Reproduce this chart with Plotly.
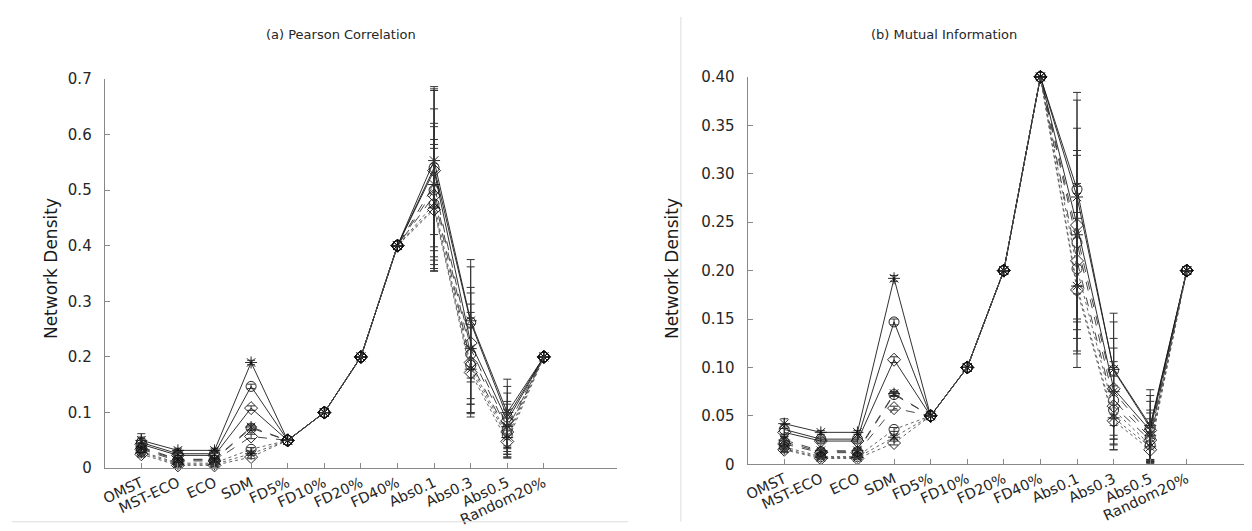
import plotly.graph_objects as go

categories = ["OMST", "MST-ECO", "ECO", "SDM", "FD5%", "FD10%", "FD20%", "FD40%",
              "Abs0.1", "Abs0.3", "Abs0.5", "Random20%"]

series_names = ["S1", "S2", "S3", "S4", "S5", "S6", "S7", "S8", "S9"]
series_markers = ["asterisk-open", "circle-open", "diamond-open",
                  "asterisk-open", "circle-open", "diamond-open",
                  "circle-open", "asterisk-open", "diamond-open"]
series_dash = ["solid", "solid", "solid", "dash", "dash", "dash", "dot", "dot", "dot"]

# (a) Pearson correlation: mean network density per series
pearson_mean = [
    [0.050, 0.032, 0.032, 0.190, 0.05, 0.10, 0.20, 0.40, 0.553, 0.265, 0.100, 0.20],
    [0.046, 0.026, 0.026, 0.147, 0.05, 0.10, 0.20, 0.40, 0.540, 0.262, 0.092, 0.20],
    [0.043, 0.023, 0.023, 0.108, 0.05, 0.10, 0.20, 0.40, 0.535, 0.225, 0.085, 0.20],
    [0.038, 0.016, 0.016, 0.074, 0.05, 0.10, 0.20, 0.40, 0.510, 0.215, 0.075, 0.20],
    [0.036, 0.015, 0.015, 0.072, 0.05, 0.10, 0.20, 0.40, 0.500, 0.205, 0.070, 0.20],
    [0.034, 0.013, 0.013, 0.057, 0.05, 0.10, 0.20, 0.40, 0.490, 0.190, 0.065, 0.20],
    [0.030, 0.009, 0.009, 0.034, 0.05, 0.10, 0.20, 0.40, 0.475, 0.185, 0.060, 0.20],
    [0.028, 0.007, 0.007, 0.026, 0.05, 0.10, 0.20, 0.40, 0.468, 0.178, 0.055, 0.20],
    [0.025, 0.005, 0.005, 0.020, 0.05, 0.10, 0.20, 0.40, 0.465, 0.172, 0.048, 0.20],
]
pearson_err = [
    [0.012, 0.004, 0.004, 0.004, 0, 0, 0, 0, 0.133, 0.110, 0.060, 0],
    [0.010, 0.004, 0.004, 0.004, 0, 0, 0, 0, 0.142, 0.100, 0.055, 0],
    [0.010, 0.004, 0.004, 0.004, 0, 0, 0, 0, 0.144, 0.100, 0.050, 0],
    [0.008, 0.003, 0.003, 0.004, 0, 0, 0, 0, 0.136, 0.100, 0.045, 0],
    [0.008, 0.003, 0.003, 0.004, 0, 0, 0, 0, 0.120, 0.090, 0.045, 0],
    [0.007, 0.003, 0.003, 0.004, 0, 0, 0, 0, 0.124, 0.090, 0.040, 0],
    [0.006, 0.002, 0.002, 0.003, 0, 0, 0, 0, 0.116, 0.085, 0.040, 0],
    [0.006, 0.002, 0.002, 0.003, 0, 0, 0, 0, 0.114, 0.080, 0.035, 0],
    [0.005, 0.002, 0.002, 0.003, 0, 0, 0, 0, 0.110, 0.080, 0.030, 0],
]

# (b) Mutual information
mi_mean = [
    [0.042, 0.033, 0.033, 0.192, 0.05, 0.10, 0.20, 0.40, 0.276, 0.098, 0.040, 0.20],
    [0.036, 0.026, 0.026, 0.147, 0.05, 0.10, 0.20, 0.40, 0.284, 0.097, 0.038, 0.20],
    [0.033, 0.024, 0.024, 0.108, 0.05, 0.10, 0.20, 0.40, 0.247, 0.078, 0.035, 0.20],
    [0.025, 0.014, 0.014, 0.073, 0.05, 0.10, 0.20, 0.40, 0.237, 0.075, 0.030, 0.20],
    [0.023, 0.013, 0.013, 0.072, 0.05, 0.10, 0.20, 0.40, 0.229, 0.066, 0.028, 0.20],
    [0.021, 0.012, 0.012, 0.058, 0.05, 0.10, 0.20, 0.40, 0.210, 0.060, 0.025, 0.20],
    [0.018, 0.008, 0.008, 0.036, 0.05, 0.10, 0.20, 0.40, 0.202, 0.056, 0.020, 0.20],
    [0.016, 0.007, 0.007, 0.028, 0.05, 0.10, 0.20, 0.40, 0.184, 0.048, 0.018, 0.20],
    [0.015, 0.006, 0.006, 0.022, 0.05, 0.10, 0.20, 0.40, 0.180, 0.045, 0.015, 0.20],
]
mi_err = [
    [0.005, 0.002, 0.002, 0.003, 0, 0, 0, 0, 0.100, 0.058, 0.037, 0],
    [0.005, 0.002, 0.002, 0.003, 0, 0, 0, 0, 0.100, 0.050, 0.033, 0],
    [0.004, 0.002, 0.002, 0.003, 0, 0, 0, 0, 0.100, 0.052, 0.030, 0],
    [0.004, 0.002, 0.002, 0.002, 0, 0, 0, 0, 0.087, 0.045, 0.026, 0],
    [0.004, 0.002, 0.002, 0.002, 0, 0, 0, 0, 0.090, 0.040, 0.025, 0],
    [0.003, 0.002, 0.002, 0.002, 0, 0, 0, 0, 0.080, 0.040, 0.022, 0],
    [0.003, 0.001, 0.001, 0.002, 0, 0, 0, 0, 0.085, 0.035, 0.018, 0],
    [0.003, 0.001, 0.001, 0.002, 0, 0, 0, 0, 0.070, 0.033, 0.016, 0],
    [0.003, 0.001, 0.001, 0.002, 0, 0, 0, 0, 0.080, 0.030, 0.014, 0],
]

pearson_ticks = [0, 0.1, 0.2, 0.3, 0.4, 0.5, 0.6, 0.7]
pearson_ticktext = ["0", "0.1", "0.2", "0.3", "0.4", "0.5", "0.6", "0.7"]
mi_ticks = [0, 0.05, 0.10, 0.15, 0.20, 0.25, 0.30, 0.35, 0.40]
mi_ticktext = ["0", "0.05", "0.10", "0.15", "0.20", "0.25", "0.30", "0.35", "0.40"]

FONT = "DejaVu Sans"
W, H = 1252, 531

def px(x):
    return x / W

def py(y):
    return 1 - y / H

fig = go.Figure()

def add_panel(means, errs, xa, ya):
    for i in range(len(series_names)):
        dash = series_dash[i]
        lc = "#1a1a1a" if dash == "solid" else ("#333333" if dash == "dash" else "#555555")
        fig.add_trace(go.Scatter(
            x=categories, y=means[i], name=series_names[i],
            xaxis=xa, yaxis=ya, mode="lines+markers",
            line=dict(color=lc, width=0.9, dash=dash),
            marker=dict(symbol=series_markers[i], size=10, color="#111111",
                        line=dict(width=0.9, color="#111111")),
            error_y=dict(type="data", array=errs[i], visible=True,
                         color="#333333", thickness=1, width=4),
            cliponaxis=False, showlegend=False,
        ))

add_panel(pearson_mean, pearson_err, "x", "y")
add_panel(mi_mean, mi_err, "x2", "y2")

axis_common = dict(
    showline=True, linecolor="#888888", linewidth=1,
    ticks="inside", ticklen=5, tickcolor="#888888", tickwidth=1,
    showgrid=False, zeroline=False,
)
yfont = dict(family=FONT, size=15, color="#262626")
xfont = dict(family=FONT, size=14.5, color="#262626")

fig.update_layout(
    width=W, height=H,
    margin=dict(l=0, r=0, t=0, b=0),
    paper_bgcolor="white", plot_bgcolor="white",
    font=dict(family=FONT, color="#262626"),
    xaxis=dict(domain=[px(93), px(607)], anchor="y", type="category",
               categoryorder="array", categoryarray=categories,
               range=[-1, 13], tickangle=-25, ticklabelstandoff=0,
               tickfont=xfont, **axis_common),
    yaxis=dict(domain=[py(467), py(64)], anchor="x", range=[0, 0.7],
               tickvals=pearson_ticks, ticktext=pearson_ticktext,
               ticklabelstandoff=9, tickfont=yfont, **axis_common),
    xaxis2=dict(domain=[px(738), 1.0], anchor="y2", type="category",
                categoryorder="array", categoryarray=categories,
                range=[-1, 13], tickangle=-25, ticklabelstandoff=0,
                tickfont=xfont, **axis_common),
    yaxis2=dict(domain=[py(463), py(62)], anchor="x2", range=[0, 0.40],
                tickvals=mi_ticks, ticktext=mi_ticktext,
                ticklabelstandoff=9, tickfont=yfont, **axis_common),
    annotations=[
        dict(text="(a) Pearson Correlation", x=px(330), y=py(18), xref="paper", yref="paper",
             showarrow=False, font=dict(family=FONT, size=13, color="#262626"),
             xanchor="center", yanchor="middle"),
        dict(text="(b) Mutual Information", x=px(935), y=py(18), xref="paper", yref="paper",
             showarrow=False, font=dict(family=FONT, size=13, color="#262626"),
             xanchor="center", yanchor="middle"),
        dict(text="Network Density", x=px(39), y=py(260), xref="paper", yref="paper",
             showarrow=False, textangle=-90, font=dict(family=FONT, size=17, color="#1a1a1a"),
             xanchor="center", yanchor="middle"),
        dict(text="Network Density", x=px(662), y=py(260), xref="paper", yref="paper",
             showarrow=False, textangle=-90, font=dict(family=FONT, size=17, color="#1a1a1a"),
             xanchor="center", yanchor="middle"),
    ],
    shapes=[
        dict(type="line", xref="paper", yref="paper", x0=0, x1=px(618),
             y0=py(522.5), y1=py(522.5), line=dict(color="#dddddd", width=1)),
        dict(type="line", xref="paper", yref="paper", x0=px(671), x1=px(671),
             y0=py(522.5), y1=1.0, line=dict(color="#dddddd", width=1)),
    ],
)

fig.write_html("out.html")
